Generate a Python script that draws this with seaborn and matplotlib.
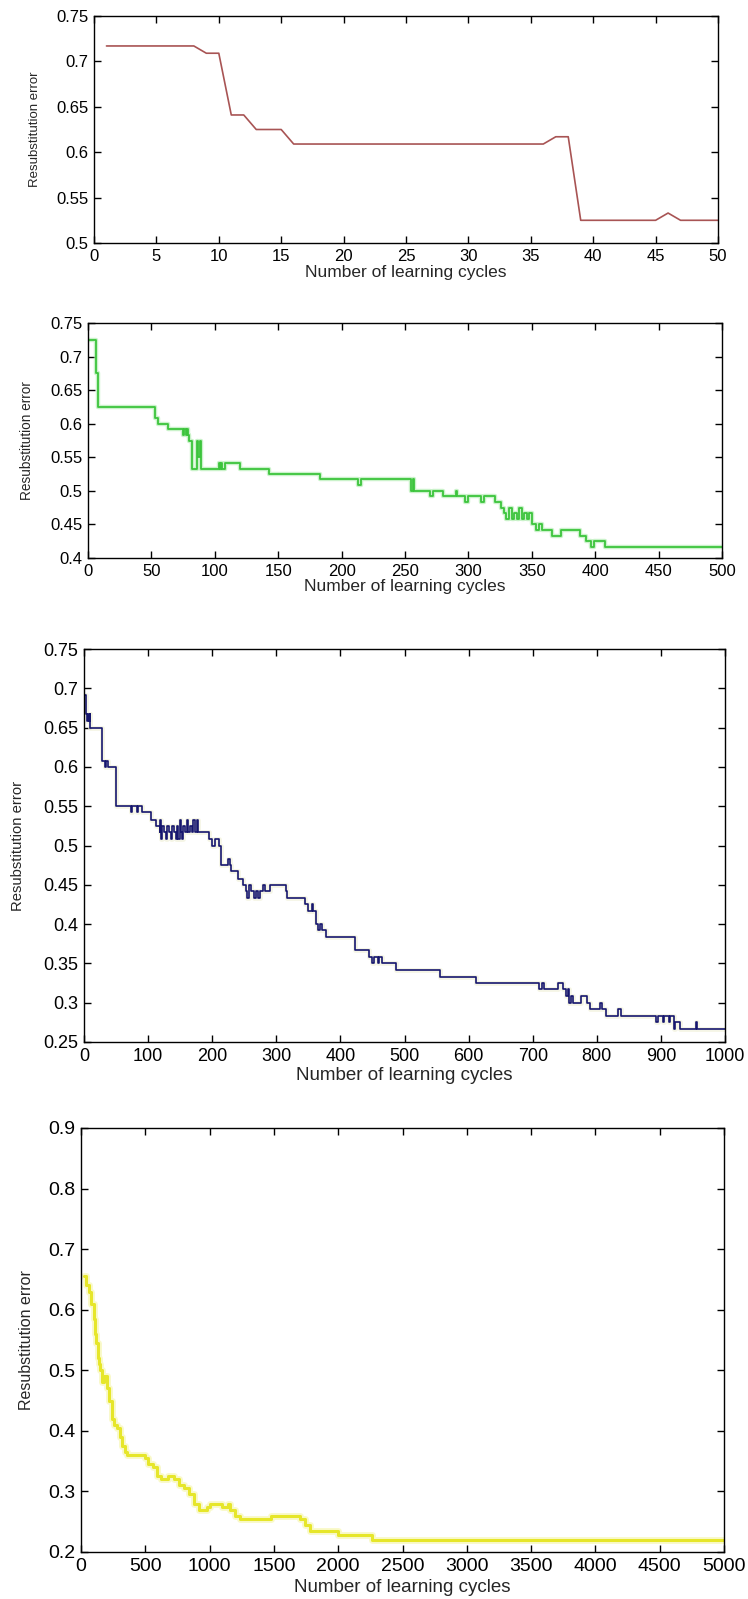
import numpy as np
import pandas as pd
import matplotlib
matplotlib.use("Agg")
import matplotlib.pyplot as plt
from matplotlib.ticker import FuncFormatter, MultipleLocator
import seaborn as sns

sns.set_style("ticks")
plt.rcParams["font.family"] = ["Liberation Sans", "DejaVu Sans"]

# ---- 50 learning cycles: error per cycle ----
p1_cycles = list(range(1, 51))
p1_errors = ([0.717] * 8 + [0.709] * 2 + [0.641] * 2 + [0.625] * 3 +
             [0.609] * 21 + [0.617] * 2 + [0.525] * 7 + [0.533] + [0.525] * 4)

# ---- 500 learning cycles: cycle where the error changes, and the new error ----
p2_cycles = [1, 6, 8, 53, 55, 63, 75, 76, 77, 78, 79, 80, 82, 86, 87, 88, 89,
             103, 104, 105, 106, 108, 120, 143, 183, 213, 215, 255, 256, 257,
             270, 272, 280, 290, 291, 297, 300, 310, 312, 321, 323, 326, 328,
             330, 332, 334, 336, 338, 340, 342, 344, 346, 348, 350, 353, 356,
             358, 366, 373, 388, 393, 397, 399, 408, 500]
p2_errors = [0.725, 0.675, 0.625, 0.608, 0.600, 0.592, 0.583, 0.592, 0.583,
             0.592, 0.583, 0.575, 0.533, 0.575, 0.550, 0.575, 0.533,
             0.542, 0.533, 0.542, 0.533, 0.542, 0.533, 0.525, 0.517, 0.508,
             0.517, 0.500, 0.517, 0.500, 0.492, 0.500, 0.492, 0.500, 0.492,
             0.483, 0.492, 0.483, 0.492, 0.483, 0.483, 0.475, 0.467, 0.458,
             0.475, 0.458, 0.467, 0.458, 0.475, 0.458, 0.467, 0.458, 0.467,
             0.450, 0.442, 0.450, 0.442, 0.433, 0.442, 0.433, 0.425, 0.417,
             0.425, 0.417, 0.417]

# ---- 1000 learning cycles ----
p3_cycles = [1, 3, 5, 6, 8, 9, 10, 28, 33, 35, 37, 50, 73, 75, 83, 85, 90,
             105, 112, 118, 119, 120, 122, 125, 128, 130, 133, 135, 137, 140,
             143, 145, 147, 149, 151, 153, 155, 158, 160, 162, 165, 168, 170,
             173, 176, 178, 195, 200, 204, 210, 213, 225, 227, 230, 240, 248,
             252, 255, 257, 260, 265, 268, 272, 275, 280, 282, 290, 315, 317,
             345, 350, 355, 358, 362, 365, 368, 372, 377, 422, 445, 450, 452,
             458, 460, 465, 487, 555, 610, 612, 614, 710, 715, 717, 740, 748,
             752, 755, 757, 760, 763, 775, 785, 790, 805, 808, 815, 833, 838,
             893, 895, 903, 905, 912, 914, 920, 922, 930, 955, 957, 1000]
p3_errors = [0.692, 0.667, 0.658, 0.667, 0.658, 0.667, 0.650, 0.608, 0.600,
             0.608, 0.600, 0.550, 0.542, 0.550, 0.542, 0.550, 0.542,
             0.533, 0.525, 0.517, 0.533, 0.508, 0.525, 0.517, 0.508, 0.525,
             0.517, 0.508, 0.525, 0.517, 0.508, 0.525, 0.508, 0.533, 0.517,
             0.508, 0.525, 0.517, 0.533, 0.517, 0.525, 0.517, 0.533, 0.517,
             0.533, 0.517, 0.508, 0.500, 0.508, 0.500, 0.475, 0.483, 0.475,
             0.467, 0.458, 0.450, 0.442, 0.433, 0.450, 0.442, 0.433, 0.442,
             0.433, 0.442, 0.450, 0.442, 0.450, 0.442, 0.433, 0.425, 0.417,
             0.425, 0.417, 0.400, 0.392, 0.400, 0.392, 0.383, 0.367, 0.358,
             0.350, 0.358, 0.350, 0.358, 0.350, 0.342, 0.333, 0.333, 0.325,
             0.325, 0.317, 0.325, 0.317, 0.325, 0.317, 0.308, 0.317, 0.300,
             0.308, 0.300, 0.308, 0.300, 0.292, 0.300, 0.292, 0.283, 0.292,
             0.283, 0.275, 0.283, 0.275, 0.283, 0.275, 0.283, 0.267, 0.275,
             0.267, 0.275, 0.267, 0.267]

# ---- 5000 learning cycles ----
p4_cycles = [20, 40, 60, 80, 100, 110, 120, 130, 140, 150, 160, 180, 200, 220,
             240, 260, 280, 300, 320, 340, 360, 500, 520, 560, 590, 620, 680,
             720, 760, 800, 840, 880, 920, 950, 980, 1000, 1100, 1140, 1160,
             1200, 1240, 1400, 1480, 1680, 1700, 1740, 1780, 1960, 2000, 2240,
             2260, 5000]
p4_errors = [0.655, 0.640, 0.630, 0.610, 0.585, 0.560, 0.545, 0.520, 0.510,
             0.500, 0.480, 0.490, 0.470, 0.450, 0.420, 0.410, 0.405, 0.390,
             0.375, 0.365, 0.360, 0.355, 0.345, 0.340, 0.325, 0.320, 0.325,
             0.320, 0.310, 0.305, 0.295, 0.280, 0.270, 0.270, 0.275, 0.280,
             0.275, 0.280, 0.270, 0.260, 0.255, 0.255, 0.260, 0.260, 0.255,
             0.245, 0.235, 0.235, 0.228, 0.228, 0.220, 0.220]

W, H = 748, 1599
fig = plt.figure(figsize=(W / 100, H / 100), dpi=100)
fig.patch.set_facecolor("white")

XLABEL = "Number of learning cycles"
YLABEL = "Resubstitution error"


def make_axes(left, right, top, bottom):
    return fig.add_axes([left / W, (H - bottom) / H, (right - left) / W,
                         (bottom - top) / H])


def style(ax, box, xlim, xstep, ylim, ystep, tick_fs, xl_fs, yl_fs,
          ylab_x, xlab_off):
    left, right, top, bottom = box
    ax.set_xlim(*xlim)
    ax.set_ylim(*ylim)
    ax.xaxis.set_major_locator(MultipleLocator(xstep))
    ax.yaxis.set_major_locator(MultipleLocator(ystep))
    ax.yaxis.set_major_formatter(FuncFormatter(lambda v, p: f"{v:g}"))
    ax.xaxis.set_major_formatter(FuncFormatter(lambda v, p: f"{v:g}"))
    ax.tick_params(direction="in", length=5, width=1, top=True, right=True,
                   labelsize=tick_fs, colors="black", pad=4)
    for s in ax.spines.values():
        s.set_visible(True)
        s.set_color("black")
        s.set_linewidth(1.0)
    ax.set_facecolor("white")
    ax.grid(False)
    ax.set_xlabel(XLABEL, fontsize=xl_fs)
    ax.set_ylabel(YLABEL, fontsize=yl_fs)
    w = right - left
    h = bottom - top
    ax.yaxis.set_label_coords((ylab_x - left) / w, 0.5)
    ax.xaxis.set_label_coords(0.5, -xlab_off / h)
    ax.xaxis.label.set_va("center")
    ax.yaxis.label.set_va("center")
    ax.set_zorder(1)


# Panel 1
box1 = (94, 718, 16, 243)
ax1 = make_axes(*box1)
df1 = pd.DataFrame({"cycle": p1_cycles, "error": p1_errors})
sns.lineplot(data=df1, x="cycle", y="error", ax=ax1, color="#a85454",
             linewidth=1.2, estimator=None)
style(ax1, box1, (0, 50), 5, (0.5, 0.75), 0.05, 12, 12.5, 9.5, 35, 29)

# Panel 2
box2 = (88, 722, 323, 558)
ax2 = make_axes(*box2)
df2 = pd.DataFrame({"cycle": p2_cycles, "error": p2_errors})
sns.lineplot(data=df2, x="cycle", y="error", ax=ax2, color="#a8eaa8",
             linewidth=3.2, alpha=0.6, estimator=None, drawstyle="steps-post")
sns.lineplot(data=df2, x="cycle", y="error", ax=ax2, color="#3cc43c",
             linewidth=1.3, estimator=None, drawstyle="steps-post")
style(ax2, box2, (0, 500), 50, (0.4, 0.75), 0.05, 12, 12.5, 9.8, 27, 29)

# Panel 3
box3 = (84, 725, 649, 1042)
ax3 = make_axes(*box3)
df3 = pd.DataFrame({"cycle": p3_cycles, "error": p3_errors})
sns.lineplot(data=df3, x="cycle", y="error", ax=ax3, color="#f2f2dc",
             linewidth=3.5, alpha=0.7, estimator=None, drawstyle="steps-post")
sns.lineplot(data=df3, x="cycle", y="error", ax=ax3, color="#16166e",
             linewidth=1.2, estimator=None, drawstyle="steps-post")
style(ax3, box3, (0, 1000), 100, (0.25, 0.75), 0.05, 13, 13.5, 10.7, 18, 33)

# Panel 4
box4 = (81, 724, 1128, 1552)
ax4 = make_axes(*box4)
df4 = pd.DataFrame({"cycle": p4_cycles, "error": p4_errors})
sns.lineplot(data=df4, x="cycle", y="error", ax=ax4, color="#f6f6a8",
             linewidth=5, alpha=0.6, estimator=None, drawstyle="steps-post")
sns.lineplot(data=df4, x="cycle", y="error", ax=ax4, color="#e6e62a",
             linewidth=2.2, estimator=None, drawstyle="steps-post")
style(ax4, box4, (0, 5000), 500, (0.2, 0.9), 0.1, 14, 13.5, 11.5, 26, 35)

fig.savefig("out.png", dpi=100, facecolor="white")
